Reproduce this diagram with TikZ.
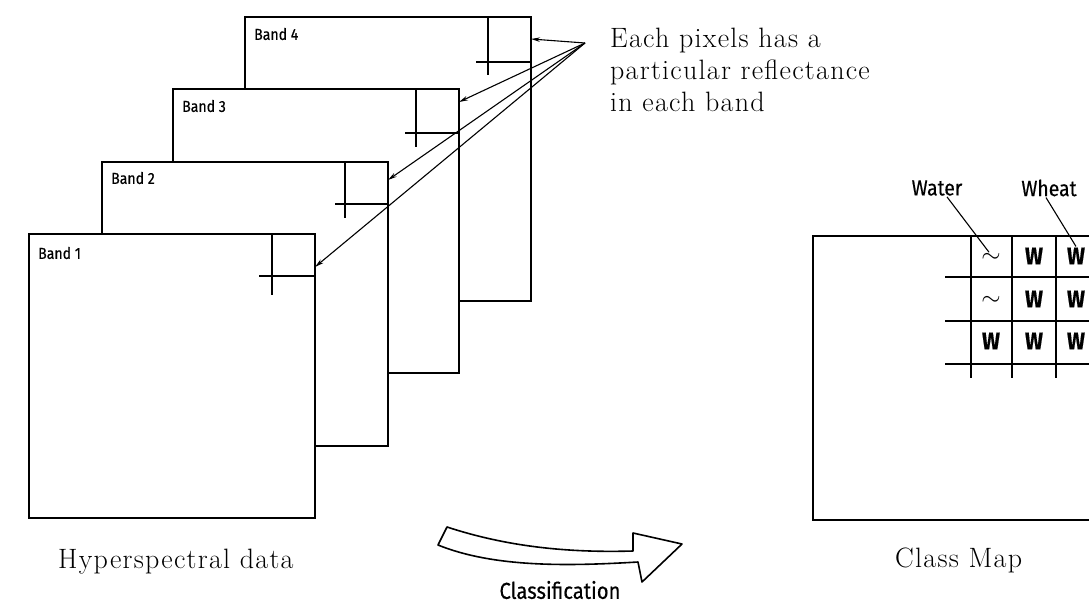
\documentclass[tikz,border=0pt]{standalone}
\usepackage{fontspec}
\usetikzlibrary{arrows.meta,calc}
\newfontfamily\lettering[FakeStretch=0.88,FakeBold=0.4]{Fira Sans}
\newfontfamily\capfont[LetterSpace=4.5]{Latin Modern Roman}
\begin{document}
\begin{tikzpicture}[x=1pt,y=-1pt,
  band/.style={draw, line width=1.9pt, fill=white, minimum width=286pt,
    minimum height=284pt, anchor=north west, inner sep=0pt, outer sep=0pt},
  hair/.style={line width=1.4pt},
  bandlabel/.style={font=\lettering\fontsize{16}{18}\selectfont, anchor=west, inner sep=0pt},
  pointer/.style={line width=1.1pt, -{Stealth[length=9pt,width=4.5pt]}},
  serifcap/.style={font=\capfont\fontsize{28}{32}\selectfont, inner sep=0pt},
  tag/.style={font=\lettering\fontsize{22}{24}\selectfont, inner sep=1pt},
  cell/.style={font=\lettering\bfseries\fontsize{24}{26}\selectfont, inner sep=1pt},
  wave/.style={font=\fontsize{30}{32}\selectfont, inner sep=1pt},
  grid/.style={line width=1.7pt}]
\useasboundingbox (0,0) rectangle (1089,603);

% stacked spectral bands, back to front
\node[band] (b4) at (245,17) {};
\draw[hair] ([xshift=-43pt]b4.north east) -- ++(0,58);
\draw[hair] ([yshift=-45pt]b4.north east) -- ++(-55,0);
\node[bandlabel] (l4) at ([xshift=9pt,yshift=-17pt]b4.north west) {Band 4};

\node[band] (b3) at (173,89) {};
\draw[hair] ([xshift=-43pt]b3.north east) -- ++(0,58);
\draw[hair] ([yshift=-44pt]b3.north east) -- ++(-54,0);
\node[bandlabel] (l3) at ([xshift=9pt,yshift=-17pt]b3.north west) {Band 3};

\node[band] (b2) at (102,162) {};
\draw[hair] ([xshift=-43pt]b2.north east) -- ++(0,56);
\draw[hair] ([yshift=-42pt]b2.north east) -- ++(-53,0);
\node[bandlabel] (l2) at ([xshift=9pt,yshift=-16pt]b2.north west) {Band 2};

\node[band] (b1) at (29,234) {};
\draw[hair] ([xshift=-43pt]b1.north east) -- ++(0,61);
\draw[hair] ([yshift=-42pt]b1.north east) -- ++(-56,0);
\node[bandlabel] (l1) at ([xshift=9pt,yshift=-19pt]b1.north west) {Band 1};

% pointers from the note to one pixel in every band
\coordinate (focus) at (585,43);
\draw[pointer] (focus) -- ([yshift=-22pt]b4.north east);
\draw[pointer] (focus) -- ([yshift=-13pt]b3.north east);
\draw[pointer] (focus) -- ([yshift=-18pt]b2.north east);
\draw[pointer] (focus) -- ([yshift=-33pt]b1.north east);

\node[serifcap, anchor=north west, align=left] (note) at (610,28)
  {Each pixels has a\\particular reflectance\\in each band};
\node[serifcap, anchor=base west] (hyper) at (58,568) {Hyperspectral data};

% classification arrow
\draw[line width=1.6pt, line join=round, fill=white]
  (447,527) .. controls (505,546) and (565,553) .. (633,551)
  -- (633,533) -- (682,544) -- (642,582) -- (638,562)
  .. controls (570,566) and (495,568) .. (438,545) -- cycle;
\node[font=\lettering\fontsize{23}{25}\selectfont, inner sep=0pt] (cls) at (560,590) {Classification};

% class map
\begin{scope}
\clip (0,0) rectangle (1089,603);
\node[draw, line width=1.9pt, minimum width=400pt, minimum height=284pt,
  anchor=north west, inner sep=0pt] (cmap) at (812,235) {};
\foreach \gx in {971,1012,1056}
  \draw[grid] (\gx,235) -- (\gx,378);
\foreach \gy in {277,321,364}
  \draw[grid] (945,\gy) -- (1100,\gy);
\end{scope}

\node[wave] (c11) at (991,258) {$\sim$};
\node[cell] (c12) at (1034,256) {W};
\node[cell] (c13) at (1076,256) {W};
\node[wave] (c21) at (991,301) {$\sim$};
\node[cell] (c22) at (1034,299) {W};
\node[cell] (c23) at (1076,299) {W};
\node[cell] (c31) at (991,341) {W};
\node[cell] (c32) at (1034,341) {W};
\node[cell] (c33) at (1076,341) {W};

\node[tag] (water) at (937,188) {Water};
\node[tag] (wheat) at (1049,188) {Wheat};
\draw[line width=1.1pt] ([xshift=10pt]water.south) -- ([xshift=-2pt]c11.north);
\draw[line width=1.1pt] ([xshift=-3pt]wheat.south) -- (c13.north);

\node[serifcap, anchor=base west] (classmap) at (895,567) {Class Map};
\end{tikzpicture}
\end{document}
